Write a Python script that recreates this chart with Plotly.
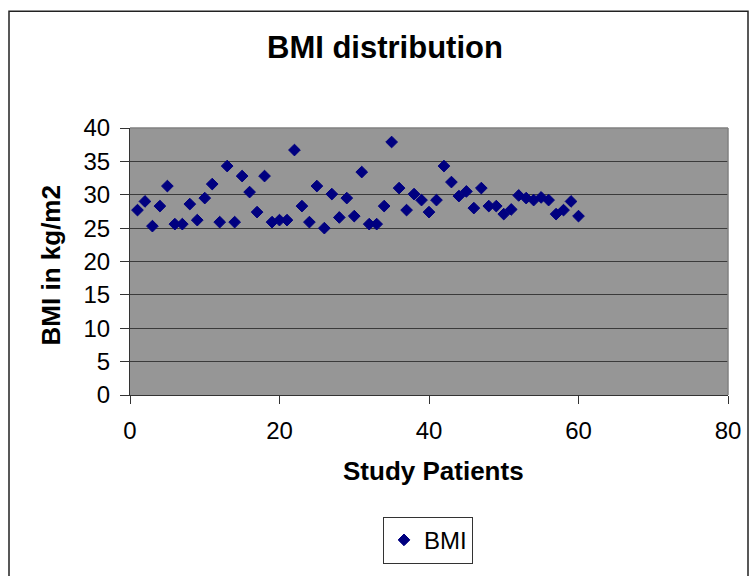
import plotly.graph_objects as go

patients = list(range(1, 61))
bmi = [27.7, 29.0, 25.3, 28.3, 31.3, 25.6, 25.6, 28.6, 26.2, 29.5,
       31.6, 25.9, 34.3, 25.9, 32.8, 30.4, 27.4, 32.8, 25.9, 26.2,
       26.2, 36.7, 28.3, 25.9, 31.3, 25.0, 30.1, 26.6, 29.5, 26.8,
       33.4, 25.6, 25.6, 28.3, 37.9, 31.0, 27.7, 30.1, 29.2, 27.4,
       29.2, 34.3, 31.9, 29.8, 30.5, 28.0, 31.0, 28.3, 28.3, 27.1,
       27.8, 29.9, 29.5, 29.2, 29.6, 29.2, 27.1, 27.7, 29.0, 26.8]

x_ticks = [0, 20, 40, 60, 80]
y_ticks = [0, 5, 10, 15, 20, 25, 30, 35, 40]

FONT = "Liberation Sans, Arial, sans-serif"

fig = go.Figure()
fig.add_trace(go.Scatter(
    x=patients, y=bmi, mode="markers", name="BMI",
    marker=dict(symbol="diamond", size=9, color="#000080",
                line=dict(color="#000080", width=1)),
))

# plot-area geometry in pixels
L, R, T, B = 130, 24, 128, 176
W, H = 752, 576
pw = W - L - R
ph = H - T - B

def px(xp):
    return (xp - L) / pw

def py(yp):
    return (H - B - yp) / ph

fig.update_layout(
    width=W, height=H,
    margin=dict(l=L, r=R, t=T, b=B),
    paper_bgcolor="white",
    plot_bgcolor="#969696",
    font=dict(family=FONT, color="black", size=24),
    showlegend=True,
    legend=dict(
        x=px(428), y=py(548), xanchor="center", yanchor="middle",
        bordercolor="#333333", borderwidth=1, bgcolor="white",
        font=dict(family=FONT, size=24, color="black"),
    ),
    xaxis=dict(
        range=[0, 80], tickvals=x_ticks, ticktext=[str(v) for v in x_ticks],
        showgrid=False, zeroline=False,
        showline=True, linecolor="#333333", linewidth=1,
        ticks="outside", ticklen=8, tickcolor="#333333",
        tickfont=dict(family=FONT, size=24, color="black"),
        ticklabelstandoff=6,
    ),
    yaxis=dict(
        range=[0, 40], tickvals=y_ticks, ticktext=[str(v) for v in y_ticks],
        showgrid=True, gridcolor="#3a3a3a", gridwidth=1.3,
        zeroline=False,
        showline=True, linecolor="#333333", linewidth=1,
        ticks="outside", ticklen=9, tickcolor="#333333",
        tickfont=dict(family=FONT, size=24, color="black"),
        ticklabelstandoff=5,
    ),
    annotations=[
        dict(text="BMI distribution", xref="paper", yref="paper",
             x=px(385), y=py(46), xanchor="center", yanchor="middle",
             showarrow=False,
             font=dict(family=FONT, size=31, color="black", weight="bold")),
        dict(text="Study Patients", xref="paper", yref="paper",
             x=px(433), y=py(477), xanchor="center", yanchor="middle",
             showarrow=False,
             font=dict(family=FONT, size=26, color="black", weight="bold")),
        dict(text="BMI in kg/m2", xref="paper", yref="paper",
             x=px(51), y=py(268), xanchor="center", yanchor="middle",
             textangle=-90, showarrow=False,
             font=dict(family=FONT, size=26, color="black", weight="bold")),
    ],
    shapes=[
        # outer chart border
        dict(type="rect", xref="paper", yref="paper",
             x0=px(9), x1=px(748), y0=py(590), y1=py(9),
             line=dict(color="#222222", width=1.5), layer="below"),
        # plot area top/right border
        dict(type="line", xref="paper", yref="paper",
             x0=0, x1=1, y0=1, y1=1,
             line=dict(color="#808080", width=1.5)),
        dict(type="line", xref="paper", yref="paper",
             x0=1, x1=1, y0=0, y1=1,
             line=dict(color="#808080", width=1.5)),
    ],
)

fig.write_html("out.html")
